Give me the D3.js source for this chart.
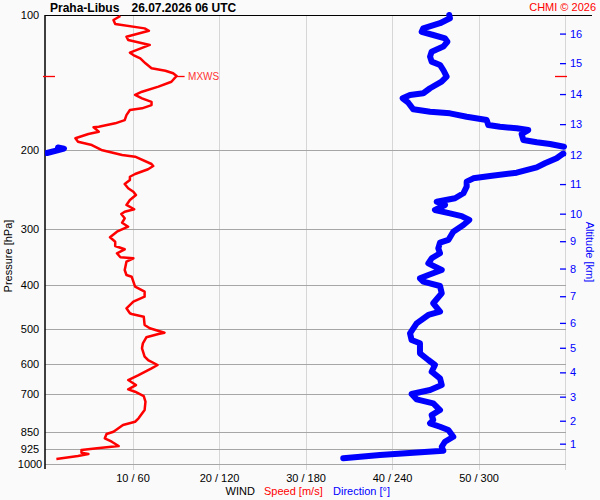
<!DOCTYPE html>
<html>
<head>
<meta charset="utf-8">
<script src="https://cdn.jsdelivr.net/npm/d3@7"></script>
<style>
    body { margin: 0; background: #fafafa; }
    text { font-family: Arial, "Liberation Sans", sans-serif; }
</style>
</head>
<body>
<div id="chart-wind"></div>
<script>
// chart values
var pressureTicks = [100, 200, 300, 400, 500, 600, 700, 850, 925, 1000];
var speedTicks = [10, 20, 30, 40, 50];
var altitudeKm = [1, 2, 3, 4, 5, 6, 7, 8, 9, 10, 11, 12, 13, 14, 15, 16];
var altitudePressure = [901, 801, 708, 625, 551, 485, 423, 367, 319, 277, 238, 205, 175, 150, 128, 110];

// [pressure hPa, speed m/s]
var speedProfile = [
    [100.5, 8.6], [102.6, 7.8], [104.7, 8.0], [107.1, 11.4], [108.4, 11.9], [111.8, 9.3], [113.7, 9.5],
    [116.6, 12.0], [121.3, 9.7], [122.8, 10.1], [124.9, 10.9], [128.1, 11.5], [131.4, 12.2], [133.1, 13.8],
    [134.8, 14.7], [136.7, 15.1], [140.8, 14.5], [144.4, 13.0], [148.2, 11.1], [150.7, 10.3], [153.3, 11.1],
    [156.1, 12.2], [158.7, 12.2], [161.4, 11.1], [162.8, 9.7], [167.1, 9.3], [171.4, 9.1], [174.3, 8.0],
    [177.4, 6.1], [177.9, 5.5], [181.9, 6.1], [184.1, 4.9], [188.2, 3.4], [191.5, 3.7], [194.8, 5.3],
    [199.8, 6.4], [205.0, 8.8], [206.8, 10.3], [214.7, 12.2], [216.9, 12.4], [220.6, 11.8], [226.0, 10.3],
    [229.2, 9.7], [233.1, 9.7], [237.9, 9.1], [243.2, 9.5], [247.5, 10.1], [251.7, 10.4], [258.2, 9.7],
    [264.9, 9.3], [270.8, 10.2], [274.2, 9.1], [277.4, 8.7], [283.6, 9.1], [290.1, 8.8], [296.1, 9.5],
    [303.8, 8.2], [312.6, 7.4], [319.8, 8.0], [326.9, 8.0], [332.5, 9.1], [339.4, 8.2], [346.4, 8.6],
    [348.2, 10.1], [354.3, 9.3], [369.8, 9.1], [379.4, 9.3], [382.7, 9.9], [402.8, 10.3], [413.2, 11.4],
    [424.0, 11.4], [435.0, 10.1], [450.0, 9.3], [461.6, 9.7], [463.3, 9.9], [469.8, 11.3], [490.2, 11.4],
    [498.5, 12.0], [510.0, 13.7], [513.4, 13.0], [522.2, 11.6], [538.5, 11.2], [552.5, 11.1], [576.8, 11.4],
    [586.7, 11.8], [601.9, 12.9], [612.2, 12.2], [633.6, 10.7], [650.1, 9.5], [667.0, 10.4], [681.9, 9.5],
    [690.3, 10.3], [705.7, 11.3], [726.6, 11.5], [758.3, 11.4], [791.3, 10.7], [805.2, 10.3], [819.0, 8.9],
    [847.6, 7.8], [857.6, 7.0], [876.7, 6.8], [892.1, 7.6], [912.0, 8.4], [922.8, 5.9], [930.9, 4.1],
    [943.9, 4.1], [950.2, 4.9], [960.0, 3.7], [974.7, 1.2]
];

// [pressure hPa, direction deg]
var directionProfile = [
    [100, 279.7], [101.7, 280.2], [104.3, 273.3], [107.1, 261.7], [109.0, 260.6], [110.8, 268.6], [112.7, 276.8],
    [114.7, 278.4], [117.6, 275.6], [120.7, 267.5], [123.8, 266.4], [127.0, 267.5], [129.2, 273.3], [132.6, 275.6],
    [137.2, 277.9], [140.8, 274.4], [145.6, 266.4], [149.4, 261.7], [150.7, 252.5], [153.3, 247.4], [156.8, 251.3],
    [162.2, 254.8], [164.2, 266.4], [165.6, 280.2], [168.5, 291.8], [171.4, 305.7], [175.8, 306.8], [177.4, 314.9],
    [178.8, 326.5], [180.4, 334.5], [184.1, 329.9], [189.8, 331.1], [192.1, 340.4], [193.8, 349.6], [196.5, 359.3],
    [197.3, 8.3], [198.4, 12.5], [202.9, 0.7],
    [203.5, 358.8], [208.5, 354.2], [213.9, 346.1], [218.4, 340.4],
    [224.5, 326.5], [228.4, 308.0], [231.1, 296.4], [235.1, 291.8], [241.2, 291.8], [249.5, 289.5], [256.0, 283.7],
    [260.5, 271.0], [264.9, 276.8], [271.8, 269.8], [276.5, 280.2], [280.4, 288.3], [286.1, 293.6], [293.5, 289.5],
    [303.8, 282.5], [317.0, 279.1], [321.4, 273.3], [330.8, 272.1], [339.4, 273.3], [348.2, 267.5], [357.3, 265.2],
    [369.8, 274.5], [379.4, 265.2], [385.9, 259.4], [392.6, 261.7], [401.4, 273.3], [416.6, 274.5], [438.6, 268.6],
    [457.9, 273.3], [465.7, 265.2], [486.1, 257.1], [511.6, 252.5], [529.5, 253.6], [538.5, 259.4], [566.8, 259.4],
    [586.7, 265.2], [601.9, 269.8], [623.0, 267.5], [644.5, 273.3], [667.0, 274.5], [684.3, 266.4], [698.5, 253.6],
    [717.8, 257.1], [732.6, 268.6], [758.3, 273.3], [778.1, 267.5], [798.0, 268.6], [811.8, 266.4], [826.1, 273.3],
    [840.3, 279.1], [869.5, 282.5], [892.1, 276.7], [915.3, 274.5], [934.3, 275.6], [943.9, 254.8], [955.1, 231.7],
    [971.2, 206.2]
];

// plot box
var box = { left: 46, right: 565, top: 15, bottom: 464 };

var svg = d3.select("#chart-wind")
    .append("svg")
    .attr("width", 600)
    .attr("height", 500)
    .style("background", "#fafafa");

// scales
var x = d3.scaleLinear().domain([0, 60]).range([box.left, box.right]);
var xDir = d3.scaleLinear().domain([0, 360]).range([box.left, box.right]);
var y = d3.scaleLog().domain([100, 1000]).range([box.top, box.bottom]);

// vertical grid (speed)
svg.append("g")
    .selectAll("line")
    .data(speedTicks.concat([60]))
    .enter().append("line")
    .attr("x1", function (d) { return Math.round(x(d)) + 0.5; })
    .attr("x2", function (d) { return Math.round(x(d)) + 0.5; })
    .attr("y1", box.top)
    .attr("y2", box.bottom + 6)
    .attr("stroke", "#d6d6d6")
    .attr("stroke-width", 1);

// horizontal grid (pressure)
svg.append("g")
    .selectAll("line")
    .data(pressureTicks.slice(1))
    .enter().append("line")
    .attr("x1", box.left - 1)
    .attr("x2", box.right + 1)
    .attr("y1", function (d) { return Math.round(y(d)) + 0.5; })
    .attr("y2", function (d) { return Math.round(y(d)) + 0.5; })
    .attr("stroke", "#a6a6a6")
    .attr("stroke-width", 1.2);

// frame
svg.append("line")
    .attr("x1", 45).attr("x2", 45)
    .attr("y1", box.top).attr("y2", box.bottom + 5)
    .attr("stroke", "#000").attr("stroke-width", 1.5);
svg.append("line")
    .attr("x1", 45).attr("x2", 592)
    .attr("y1", box.top + 0.5).attr("y2", box.top + 0.5)
    .attr("stroke", "#000").attr("stroke-width", 1.2);

// pressure labels
var yAxis = svg.append("g")
    .attr("transform", "translate(30,0)")
    .call(d3.axisLeft(y).tickValues(pressureTicks).tickFormat(d3.format("d")).tickSize(0).tickPadding(0));
yAxis.select(".domain").remove();
yAxis.selectAll("text")
    .attr("x", 0)
    .style("text-anchor", "middle")
    .attr("font-size", 11)
    .attr("font-family", "Arial, 'Liberation Sans', sans-serif")
    .attr("fill", "#000");

// speed / direction labels
var xAxis = svg.append("g")
    .attr("transform", "translate(0,471)")
    .call(d3.axisBottom(x).tickValues(speedTicks)
        .tickFormat(function (d) { return d + " / " + d * 6; })
        .tickSize(0).tickPadding(3));
xAxis.select(".domain").remove();
xAxis.selectAll("text")
    .attr("font-size", 11)
    .attr("font-family", "Arial, 'Liberation Sans', sans-serif")
    .attr("fill", "#000");

// altitude axis
var altAxis = svg.append("g")
    .attr("transform", "translate(560,0)")
    .call(d3.axisRight(y).tickValues(altitudePressure)
        .tickFormat(function (d, i) { return altitudeKm[i]; })
        .tickSize(6).tickPadding(4));
altAxis.select(".domain").remove();
altAxis.selectAll("line").attr("stroke", "#0000ff").attr("stroke-width", 1.3);
altAxis.selectAll("text")
    .attr("font-size", 11)
    .attr("font-family", "Arial, 'Liberation Sans', sans-serif")
    .attr("fill", "#0000ff");

// clip so round caps stay inside the frame
svg.append("defs").append("clipPath")
    .attr("id", "plot-clip")
    .append("rect")
    .attr("x", 45).attr("y", 0)
    .attr("width", 523).attr("height", 500);

// speed line
var speedLine = d3.line()
    .x(function (d) { return x(d[1]); })
    .y(function (d) { return y(d[0]); });

svg.append("path")
    .datum(speedProfile)
    .attr("d", speedLine)
    .attr("fill", "none")
    .attr("stroke", "#ff0000")
    .attr("stroke-width", 2.5)
    .attr("stroke-linejoin", "round");

// direction line: break it where it wraps past 360 / 0
var dirSegments = [[directionProfile[0]]];
for (var i = 1; i < directionProfile.length; i++) {
    if (Math.abs(directionProfile[i][1] - directionProfile[i - 1][1]) > 180) {
        dirSegments.push([]);
    }
    dirSegments[dirSegments.length - 1].push(directionProfile[i]);
}

var dirLine = d3.line()
    .x(function (d) { return xDir(d[1]); })
    .y(function (d) { return y(d[0]); });

svg.append("g")
    .attr("clip-path", "url(#plot-clip)")
    .selectAll("path")
    .data(dirSegments)
    .enter().append("path")
    .attr("d", dirLine)
    .attr("fill", "none")
    .attr("stroke", "#0000ff")
    .attr("stroke-width", 6)
    .attr("stroke-linejoin", "round")
    .attr("stroke-linecap", "round");

// max wind marker
var maxPoint = speedProfile.reduce(function (a, b) { return b[1] > a[1] ? b : a; });
var yMax = Math.round(y(maxPoint[0])) + 0.5;
svg.append("line")
    .attr("x1", 43).attr("x2", 55)
    .attr("y1", yMax).attr("y2", yMax)
    .attr("stroke", "#ff0000").attr("stroke-width", 1.3);
svg.append("line")
    .attr("x1", 555).attr("x2", 567)
    .attr("y1", yMax).attr("y2", yMax)
    .attr("stroke", "#ff0000").attr("stroke-width", 1.3);
svg.append("line")
    .attr("x1", x(maxPoint[1])).attr("x2", x(maxPoint[1]) + 8)
    .attr("y1", yMax).attr("y2", yMax)
    .attr("stroke", "#ff0000").attr("stroke-width", 1.3);
svg.append("text")
    .attr("x", x(maxPoint[1]) + 11.5)
    .attr("y", yMax)
    .attr("dy", "0.35em")
    .attr("font-size", 10)
    .attr("fill", "#ff3333")
    .text("MXWS");

// titles
svg.append("text")
    .attr("x", 50).attr("y", 12)
    .attr("font-size", 12).attr("font-weight", "bold")
    .text("Praha-Libus");
svg.append("text")
    .attr("x", 131.5).attr("y", 12)
    .attr("font-size", 12).attr("font-weight", "bold")
    .text("26.07.2026 06 UTC");
svg.append("text")
    .attr("x", 596).attr("y", 11)
    .style("text-anchor", "end")
    .attr("font-size", 11)
    .attr("fill", "#ff0000")
    .text("CHMI \u00a9 2026");

svg.append("text")
    .attr("transform", "translate(12,256) rotate(-90)")
    .style("text-anchor", "middle")
    .attr("font-size", 11)
    .text("Pressure [hPa]");
svg.append("text")
    .attr("transform", "translate(585.5,252) rotate(90)")
    .style("text-anchor", "middle")
    .attr("font-size", 11)
    .attr("fill", "#0000ff")
    .text("Altitude [km]");

// bottom legend
svg.append("text")
    .attr("x", 225.5).attr("y", 494.5)
    .attr("font-size", 11)
    .text("WIND");
svg.append("text")
    .attr("x", 264).attr("y", 494.5)
    .attr("font-size", 11)
    .attr("fill", "#ff0000")
    .text("Speed [m/s]");
svg.append("text")
    .attr("x", 333).attr("y", 494.5)
    .attr("font-size", 11)
    .attr("fill", "#0000ff")
    .text("Direction [\u00b0]");
</script>
</body>
</html>
